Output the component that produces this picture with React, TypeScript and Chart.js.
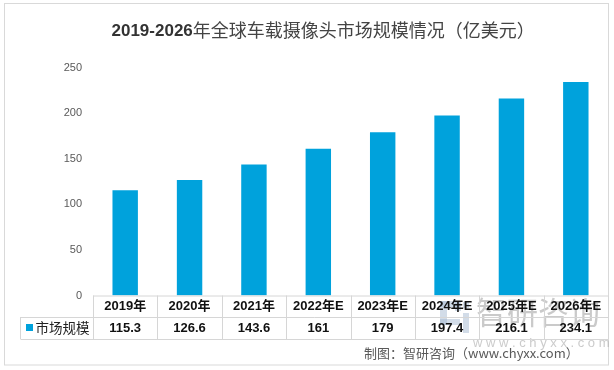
import React, { useEffect, useRef } from "react";
import { Chart, registerables } from "chart.js";

Chart.register(...registerables);

const categories = ["2019年", "2020年", "2021年", "2022年E", "2023年E", "2024年E", "2025年E", "2026年E"];
const marketSize = [115.3, 126.6, 143.6, 161, 179, 197.4, 216.1, 234.1];
const valueLabels = ["115.3", "126.6", "143.6", "161", "179", "197.4", "216.1", "234.1"];
const seriesName = "市场规模";
const titleBold = "2019-2026";
const titleRest = "年全球车载摄像头市场规模情况（亿美元）";
const sourceText = "制图：智研咨询（www.chyxx.com）";
const yTicks = { min: 0, max: 250, step: 50 };

const BAR = "#00a2dc";
const LINE = "#d6d6d6";
const LAT = '"Liberation Sans", "Noto Sans CJK SC", sans-serif';
const CJK = '"Noto Sans CJK SC", "Liberation Sans", sans-serif';

const decor = {
  id: "decor",
  afterDraw(chart: any) {
    const ctx = chart.ctx as CanvasRenderingContext2D;
    const area = chart.chartArea;
    const xs = chart.scales.x;
    ctx.save();

    // outer border
    ctx.strokeStyle = "#d9d9d9";
    ctx.lineWidth = 1;
    ctx.strokeRect(4.5, 3.5, 604, 361.5);

    // title
    ctx.textBaseline = "middle";
    ctx.textAlign = "left";
    ctx.fillStyle = "#333333";
    ctx.font = "bold 17px " + LAT;
    ctx.fillText(titleBold, 111.5, 31);
    const w1 = ctx.measureText(titleBold).width;
    ctx.fillStyle = "#444444";
    ctx.font = "18px " + CJK;
    ctx.fillText(titleRest, 111.5 + w1, 30);

    // watermark
    ctx.fillStyle = "rgba(165,185,210,0.5)";
    ctx.fillRect(440, 301, 7, 24);
    ctx.fillRect(440, 301, 20, 6);
    ctx.fillRect(440, 319, 20, 6);
    ctx.fillRect(455, 301, 6, 10);
    ctx.fillRect(463, 313, 6, 20);
    ctx.fillRect(463, 302, 6, 6);
    ctx.fillStyle = "rgba(150,150,150,0.5)";
    ctx.font = "31px " + CJK;
    ctx.textAlign = "left";
    ctx.fillText("智研咨询", 476, 312);
    ctx.font = "13px " + LAT;
    const wm = "w w w . c h y x x . c o m";
    ctx.fillStyle = "rgba(160,160,160,0.55)";
    ctx.fillText(wm, 473, 343);

    // table
    const top = area.bottom;
    const mid = 317;
    const bot = 339;
    const left = area.left;
    const right = area.right;
    const labelLeft = 20.5;
    ctx.strokeStyle = LINE;
    ctx.beginPath();
    ctx.moveTo(left, top + 0.5);
    ctx.lineTo(right, top + 0.5);
    ctx.moveTo(labelLeft, mid + 0.5);
    ctx.lineTo(right, mid + 0.5);
    ctx.moveTo(labelLeft, bot + 0.5);
    ctx.lineTo(right, bot + 0.5);
    ctx.moveTo(labelLeft, mid);
    ctx.lineTo(labelLeft, bot);
    const n = categories.length;
    const cw = (right - left) / n;
    for (let i = 0; i <= n; i++) {
      const x = Math.round(left + i * cw) + 0.5;
      ctx.moveTo(x, top);
      ctx.lineTo(x, bot);
    }
    ctx.stroke();

    ctx.textAlign = "center";
    ctx.fillStyle = "#111111";
    ctx.font = "bold 13px " + LAT;
    for (let i = 0; i < n; i++) {
      const cx = xs.getPixelForValue(i);
      ctx.fillText(categories[i], cx, 306.5);
      ctx.fillText(valueLabels[i], cx, 328.5);
    }

    // legend key
    ctx.fillStyle = BAR;
    ctx.fillRect(26, 324, 7, 7);
    ctx.fillStyle = "#222222";
    ctx.textAlign = "left";
    ctx.font = "13.5px " + CJK;
    ctx.fillText(seriesName, 35.5, 328);

    // source
    ctx.fillStyle = "#595959";
    ctx.font = "13px " + CJK;
    ctx.fillText(sourceText, 364, 353);

    ctx.restore();
  },
};

export default function App() {
  const ref = useRef<HTMLCanvasElement | null>(null);
  useEffect(() => {
    if (!ref.current) return;
    const chart = new Chart(ref.current, {
      type: "bar",
      data: {
        labels: categories,
        datasets: [
          {
            label: seriesName,
            data: marketSize,
            backgroundColor: BAR,
            barPercentage: 0.395,
            categoryPercentage: 1,
          },
        ],
      },
      options: {
        responsive: false,
        animation: false,
        layout: { padding: { left: 0, right: 6, top: 67.5, bottom: 74.5 } },
        plugins: { legend: { display: false }, title: { display: false }, tooltip: { enabled: false } },
        scales: {
          x: { display: false },
          y: {
            min: yTicks.min,
            max: yTicks.max,
            afterFit: (s: any) => {
              s.width = 93;
            },
            ticks: {
              stepSize: yTicks.step,
              padding: 11,
              color: "#595959",
              font: { family: "Liberation Sans", size: 11 },
            },
            grid: { display: false, drawTicks: false },
            border: { display: false },
          },
        },
      },
      plugins: [decor],
    });
    return () => chart.destroy();
  }, []);
  return (
    <div style={{ position: "absolute", left: 0, top: 0, width: 614, height: 370, background: "#fff" }}>
      <canvas ref={ref} width={614} height={370} />
    </div>
  );
}
